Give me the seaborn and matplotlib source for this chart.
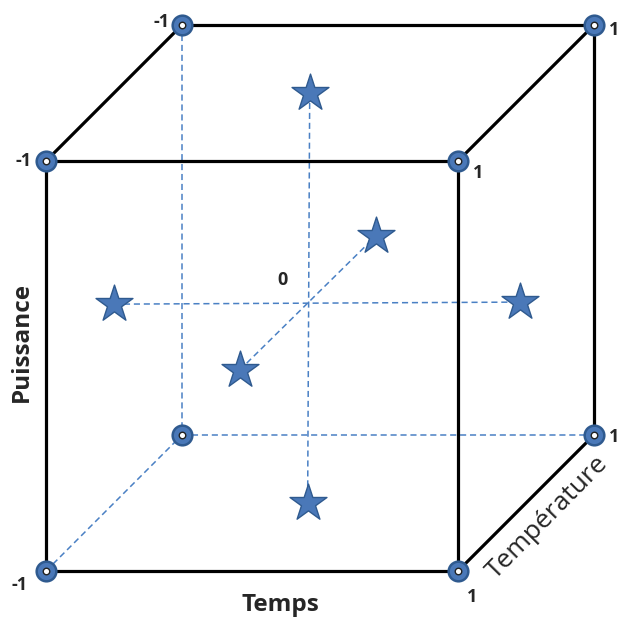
import matplotlib.pyplot as plt
import numpy as np
import pandas as pd
import seaborn as sns

# cube corners (Temps, Puissance, Temperature), coded levels
corner_t = [-1, 1, -1, 1, -1, 1, -1, 1]
corner_p = [-1, -1, 1, 1, -1, -1, 1, 1]
corner_d = [-1, -1, -1, -1, 1, 1, 1, 1]
corner_labels = ["-1", "1", "-1", "1", "", "1", "-1", "1"]

# axial points (stars)
star_t = [-1.0, 0.97, -0.05, -0.06, -0.06, -0.06]
star_p = [-0.03, -0.02, 1.0, -1.0, -0.02, -0.03]
star_d = [0.0, 0.0, 0.0, 0.0, -1.0, 1.0]
center = (-0.06, -0.01, 0.0)

BLUE = "#4a78b8"
EDGE = "#2f5a8f"
DASH = "#4a80c4"


def proj(t, p, d):
    t, p, d = np.asarray(t), np.asarray(p), np.asarray(d)
    return 320 + 206 * t + 68 * d, 298 - 205 * p - 68 * d


sns.set_style("white")
plt.rcParams["font.family"] = ["Open Sans", "DejaVu Sans"]

fig = plt.figure(figsize=(6.18, 6.21), dpi=100)
ax = fig.add_axes([0, 0, 1, 1])
ax.set_xlim(0, 618)
ax.set_ylim(621, 0)
ax.axis("off")

cx, cy = proj(corner_t, corner_p, corner_d)
solid = [(0, 1), (0, 2), (1, 3), (2, 3), (2, 6), (3, 7), (6, 7), (5, 7), (1, 5)]
hidden = [(6, 4), (4, 5), (0, 4)]
for a, b in solid:
    ax.plot([cx[a], cx[b]], [cy[a], cy[b]], color="black", lw=2.3,
            solid_capstyle="round", zorder=2)
for a, b in hidden:
    ax.plot([cx[a], cx[b]], [cy[a], cy[b]], color=DASH, lw=1.1,
            dashes=(4, 2.5), zorder=1)

sx, sy = proj(star_t, star_p, star_d)
ox, oy = proj(*center)
for i, j in [(0, 1), (2, 3), (4, 5)]:
    ax.plot([sx[i], sx[j]], [sy[i], sy[j]], color=DASH, lw=1.1,
            dashes=(4, 2.5), zorder=1)

corners = pd.DataFrame({"x": cx, "y": cy})
sns.scatterplot(data=corners, x="x", y="y", ax=ax, marker="o", s=200,
                color=BLUE, edgecolor=EDGE, linewidth=1.8, zorder=4)
sns.scatterplot(data=corners, x="x", y="y", ax=ax, marker="o", s=22,
                color="white", edgecolor="#222222", linewidth=1.0, zorder=5)

stars = pd.DataFrame({"x": sx, "y": sy})
sns.scatterplot(data=stars, x="x", y="y", ax=ax, marker="*", s=780,
                color=BLUE, edgecolor=EDGE, linewidth=1.0, zorder=4)

offsets = [(-26, -14), (14, -26), (-22, 0), (20, -12), (0, 0),
           (20, -2), (-20, 3), (20, -5)]
for x, y, lab, off in zip(cx, cy, corner_labels, offsets):
    if lab:
        ax.annotate(lab, (x, y), xytext=off, textcoords="offset pixels",
                    ha="center", va="center", fontsize=13, fontweight="bold")
ax.annotate("0", (ox, oy), xytext=(-25, 20), textcoords="offset pixels",
            ha="center", va="center", fontsize=13, fontweight="bold")

ax.text(22, 342, "Puissance", rotation=90, ha="center", va="center",
        fontsize=17.5, fontweight="bold")
ax.text(280, 605, "Temps", ha="center", va="center",
        fontsize=17.5, fontweight="bold")
ax.text(548, 518, "Température", rotation=45.5, ha="center", va="center",
        fontsize=19, rotation_mode="anchor")

fig.savefig("out.png", dpi=100)
